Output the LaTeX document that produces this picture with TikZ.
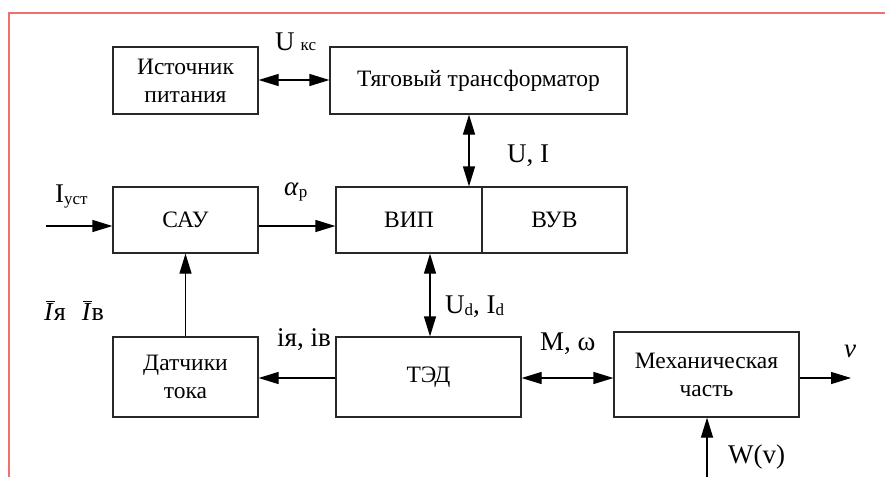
\documentclass[tikz,border=0pt]{standalone}
\usepackage{fontspec}
\setmainfont{Liberation Serif}
\usetikzlibrary{arrows.meta}
\definecolor{frame}{RGB}{240,112,108}
\definecolor{ln}{RGB}{40,40,40}
\tikzset{
  blk/.style={draw=ln, line width=1.2pt, inner sep=0pt, font=\fontsize{23.5}{28}\selectfont, align=center},
  lbl/.style={inner sep=0pt, anchor=base west, font=\fontsize{27}{30}\selectfont},
  arr/.style={line width=1.2pt, -{Triangle[length=20pt,width=12pt]}},
  darr/.style={line width=1.2pt, {Triangle[length=20pt,width=12pt]}-{Triangle[length=20pt,width=12pt]}},
}
\newcommand{\sbs}[1]{\raisebox{-2pt}{\fontsize{17}{17}\selectfont #1}}
\newcommand{\obarI}{\makebox[0pt][l]{\raisebox{18.5pt}{\hspace{1.5pt}\rule{9pt}{1pt}}}\textit{I}}
\begin{document}
\begin{tikzpicture}[x=1pt,y=-1pt]
\useasboundingbox (0,0) rectangle (885,477);
\fill[white] (0,0) rectangle (885,477);
\draw[frame, line width=2.2pt] (9,477) -- (9,13) -- (885,13);
% blocks
\node[blk, minimum width=145pt, minimum height=67pt] (src) at (185.5,80.5) {Источник\\питания};
\node[blk, minimum width=297pt, minimum height=67pt] (tr) at (478.5,80.5) {Тяговый трансформатор};
\node[blk, minimum width=145pt, minimum height=66pt] (sau) at (185.5,220) {САУ};
\node[blk, minimum width=146pt, minimum height=66pt] (vip) at (409,220) {ВИП};
\node[blk, minimum width=145pt, minimum height=66pt, anchor=west] (vuv) at ([xshift=-1.2pt]vip.east) {ВУВ};
\node[blk, minimum width=145pt, minimum height=80pt] (dt) at (185.5,377) {Датчики\\тока};
\node[blk, minimum width=185pt, minimum height=80pt] (ted) at (428.5,377) {ТЭД};
\node[blk, minimum width=185pt, minimum height=85pt] (mech) at (706.5,374.5) {Механическая\\часть};
% coordinates
\coordinate (iin) at (46,226);
\coordinate (vout) at (851,378);
\coordinate (win) at (707,477);
% connectors
\draw[darr] (src.east |- 0,80) -- (tr.west |- 0,80);
\draw[darr] (tr.south -| 469,0) -- (vip.north -| 469,0);
\draw[arr] (iin) -- (sau.west |- iin);
\draw[arr] (sau.east |- 0,226) -- (vip.west |- 0,226);
\draw[arr] (dt.north) -- (sau.south);
\draw[darr] (vip.south -| 430,0) -- (ted.north -| 430,0);
\draw[arr] (ted.west |- 0,378) -- (dt.east |- 0,378);
\draw[darr] (ted.east |- 0,378) -- (mech.west |- 0,378);
\draw[arr] (mech.east |- vout) -- (vout);
\draw[arr] (win) -- (mech.south -| win);
% labels
\node[lbl] (lukc) at (275,50) {U\hspace{6pt}{\fontsize{17}{17}\selectfont кс}};
\node[lbl] (lui) at (507,162) {U, I};
\node[lbl] (liu) at (55,202) {I\sbs{уст}};
\node[lbl] (lal) at (284,195) {\textit{α}\sbs{р}};
\node[lbl, font=\fontsize{26}{28}\selectfont] (lib) at (44,320) {\obarI я\hspace{16pt}\obarI в};
\node[lbl] (liyv) at (277,346) {iя, iв};
\node[lbl] (lud) at (445,313) {U\sbs{d}, I\sbs{d}};
\node[lbl] (lmw) at (540,350) {M, ω};
\node[lbl] (lv) at (844,357) {\textit{v}};
\node[lbl] (lw) at (728,463) {W(v)};
\end{tikzpicture}
\end{document}
